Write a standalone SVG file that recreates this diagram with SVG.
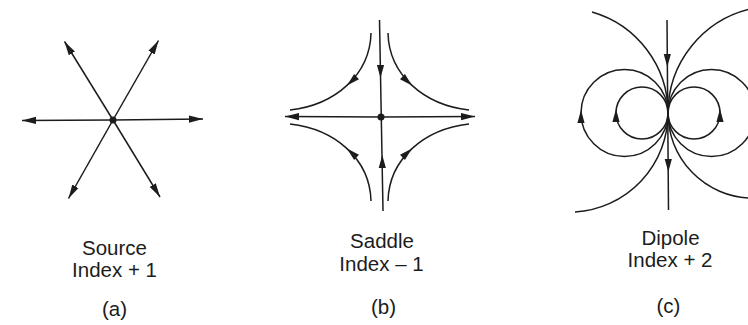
<svg xmlns="http://www.w3.org/2000/svg" width="748" height="325" viewBox="0 0 748 325">
<defs>
<style>
.ln{fill:none;stroke:#1c1c1c;stroke-width:1.5}
.hd,.dot{fill:#1c1c1c}
text{font-family:"Liberation Sans",Arial,sans-serif;font-size:20.5px;fill:#1c1c1c;text-anchor:middle}
</style>
<marker id="ah" viewBox="0 0 14 8" markerWidth="14" markerHeight="8" refX="14" refY="4" orient="auto" markerUnits="userSpaceOnUse">
<path d="M0,0.4 L14,4 L0,7.6 Z" fill="#1c1c1c"/>
</marker>
<path id="head" d="M0,0 L-13,-3.6 L-13,3.6 Z"/>
</defs>
<rect width="748" height="325" fill="#ffffff"/>

<g id="connectors">
  <g id="source-flow">
    <line class="ln" x1="113" y1="120" x2="22" y2="120.5" marker-end="url(#ah)"/>
    <line class="ln" x1="113" y1="120" x2="203" y2="119" marker-end="url(#ah)"/>
    <line class="ln" x1="113" y1="120" x2="64.5" y2="41.5" marker-end="url(#ah)"/>
    <line class="ln" x1="113" y1="120" x2="158.5" y2="40.5" marker-end="url(#ah)"/>
    <line class="ln" x1="113" y1="120" x2="68.5" y2="198.5" marker-end="url(#ah)"/>
    <line class="ln" x1="113" y1="120" x2="160" y2="197" marker-end="url(#ah)"/>
  </g>
  <g id="saddle-flow">
    <line class="ln" x1="381" y1="117" x2="285" y2="116.5" marker-end="url(#ah)"/>
    <line class="ln" x1="381" y1="117" x2="475" y2="116.5" marker-end="url(#ah)"/>
    <line class="ln" x1="379.5" y1="20" x2="383" y2="211"/>
    <use href="#head" class="hd" transform="translate(380.5 78) rotate(90)"/>
    <use href="#head" class="hd" transform="translate(382.3 155) rotate(-90)"/>
    <path class="ln" d="M371,33 C370,75 335,105 290,110"/>
    <path class="ln" d="M388,33 C389,75 424,105 469,110"/>
    <path class="ln" d="M371,201 C370,159 335,129 290,124"/>
    <path class="ln" d="M388,201 C389,159 424,129 469,124"/>
    <use href="#head" class="hd" transform="translate(347 85.4) rotate(137.3)"/>
    <use href="#head" class="hd" transform="translate(412 85.4) rotate(42.7)"/>
    <use href="#head" class="hd" transform="translate(347 148.6) rotate(-137.3)"/>
    <use href="#head" class="hd" transform="translate(412 148.6) rotate(-42.7)"/>
  </g>
  <g id="dipole-flow">
    <line class="ln" x1="667" y1="20" x2="668.5" y2="210"/>
    <use href="#head" class="hd" transform="translate(667.3 67) rotate(90)"/>
    <use href="#head" class="hd" transform="translate(668.3 172) rotate(90)"/>
    <circle class="ln" cx="642" cy="113" r="26"/>
    <circle class="ln" cx="694" cy="113" r="26"/>
    <circle class="ln" cx="624.5" cy="113" r="43.5"/>
    <circle class="ln" cx="711.5" cy="113" r="43.5"/>
    <path class="ln" d="M592,12 A105,105 0 0 1 668,113 A99,99 0 0 1 575,212"/>
    <path class="ln" d="M752,8.5 A107,107 0 0 0 668,113 A85,85 0 0 0 750,198"/>
    <use href="#head" class="hd" transform="translate(581 110) rotate(-90)"/>
    <use href="#head" class="hd" transform="translate(616 109) rotate(-90)"/>
    <use href="#head" class="hd" transform="translate(720 109) rotate(-90)"/>
  </g>
</g>

<g id="source">
  <circle class="dot" cx="113" cy="120" r="3.5"/>
  <text x="114.5" y="255">Source</text>
  <text x="114.5" y="277">Index + 1</text>
  <text x="114.5" y="316">(a)</text>
</g>

<g id="saddle">
  <circle class="dot" cx="381" cy="117" r="3.5"/>
  <text x="382" y="248">Saddle</text>
  <text x="381.5" y="271">Index – 1</text>
  <text x="383.5" y="314">(b)</text>
</g>

<g id="dipole">
  <text x="670.5" y="245">Dipole</text>
  <text x="670" y="267">Index + 2</text>
  <text x="668.5" y="313">(c)</text>
</g>
</svg>
